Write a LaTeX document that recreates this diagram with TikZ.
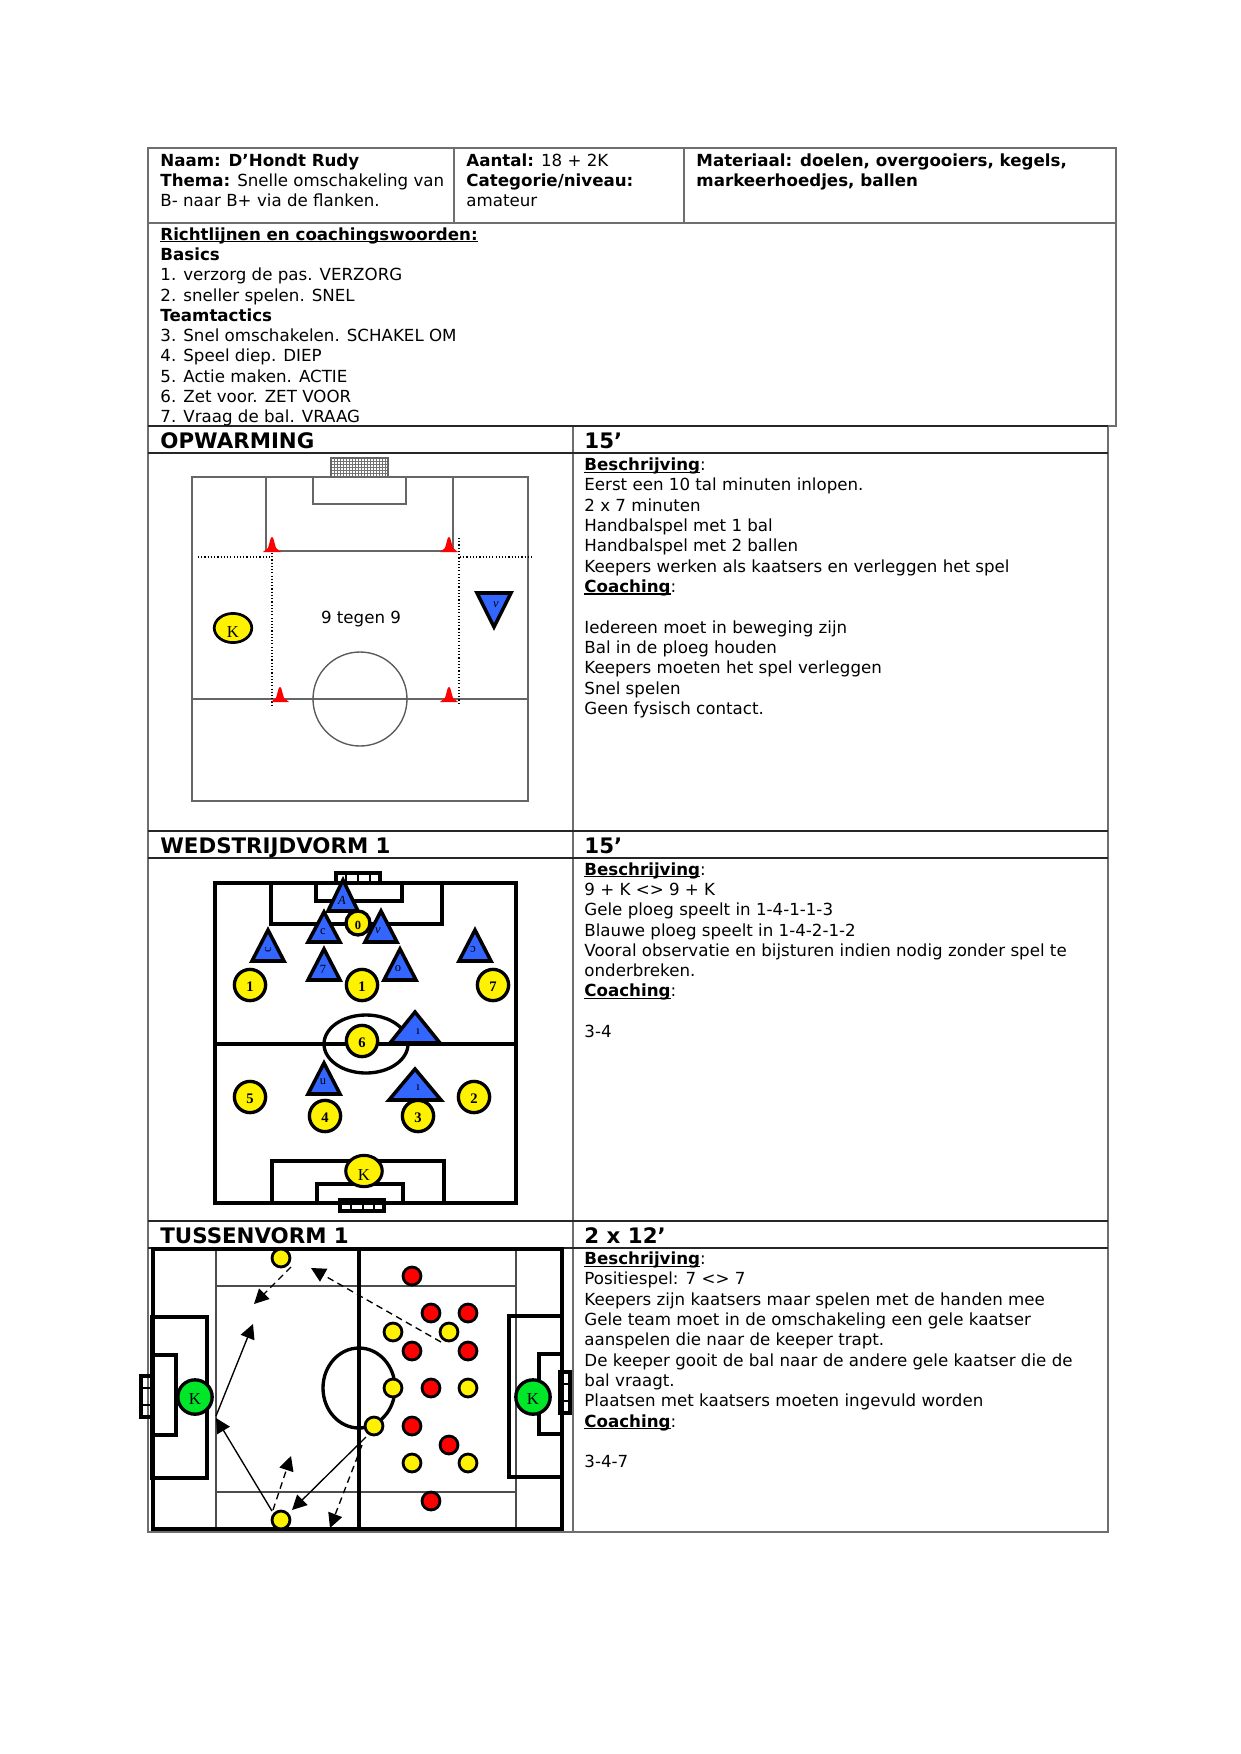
\documentclass[tikz,border=0pt]{standalone}
\usepackage{fontspec}
\setmainfont{DejaVu Sans}
\newfontfamily\serifplayer{Liberation Serif}
\usetikzlibrary{arrows.meta,shapes.geometric}
\definecolor{rule}{RGB}{110,110,110}
\definecolor{tblue}{RGB}{51,102,255}
\definecolor{pgreen}{RGB}{0,230,40}
\tikzset{
  x=0.48pt,y=-0.48pt,
  tline/.style={draw=rule,line width=0.6pt},
  hline/.style={draw=black!85,line width=0.5pt},
  txt/.style={anchor=north west,inner sep=0pt,align=left,font=\fontsize{8}{9.75}\selectfont},
  head/.style={anchor=base west,inner sep=0pt,font=\fontsize{10.25}{12}\selectfont\bfseries},
  pline/.style={draw=black!60,line width=0.65pt},
  dot/.style={draw=black,densely dotted,line width=0.55pt},
  bline/.style={draw=black,line width=1.6pt},
  thin3/.style={draw=black!70,line width=0.6pt},
  pl/.style={circle,draw=black,line width=1.6pt,fill=yellow,minimum size=15pt,inner sep=0pt,text height=6.1pt,text depth=0pt,font=\fontsize{7}{7}\selectfont\bfseries\serifplayer},
  plk/.style={ellipse,draw=black,line width=1.5pt,fill=yellow,inner sep=0pt,text height=9.3pt,text depth=0pt,font=\fontsize{8}{8}\selectfont\serifplayer},
  tri/.style={draw=black,line width=1.7pt,fill=tblue,line join=miter},
  trilab/.style={inner sep=0pt,font=\fontsize{6}{6}\selectfont\serifplayer},
  small/.style={circle,draw=black,line width=1.35pt,minimum size=8.6pt,inner sep=0pt},
  yp/.style={small,fill=yellow},
  rp/.style={small,fill=red},
  gk/.style={circle,draw=black,line width=1.6pt,fill=pgreen,minimum size=16.5pt,inner sep=0pt,text height=7.3pt,text depth=0pt,font=\fontsize{8}{8}\selectfont\serifplayer},
  sol/.style={draw=black,line width=0.65pt,-{Triangle[length=7pt,width=7pt]}},
  das/.style={draw=black,line width=0.65pt,dash pattern=on 3.2pt off 2.2pt,-{Triangle[length=7pt,width=7pt]}},
  cone/.pic={\fill[red] (-4,-2) -- (-1.2,-12) -- (0,-13) -- (1.2,-12) -- (4,-2) -- (9,2) -- (-9,2) -- cycle;},
}
\newsavebox{\ubox}
\newcommand{\bu}[1]{\sbox{\ubox}{\textbf{#1}}\rlap{\rule[-1.1pt]{\wd\ubox}{0.65pt}}\usebox{\ubox}}
\newcommand{\tripl}[8]{\draw[tri] (#1,#2) -- (#1+#3,#4) -- (#1-#3,#4) -- cycle;
  \node[trilab,rotate=#5] at (#6,#7) {#8};}
\begin{document}
\begin{tikzpicture}
\useasboundingbox (0,0) rectangle (1241,1754);
% table rules
\draw[tline] (148,148) rectangle (1116,426);
\draw[tline] (148,223) -- (1116,223);
\draw[tline] (454,148) -- (454,223);
\draw[tline] (684,148) -- (684,223);
\draw[tline] (148,426) rectangle (1108,1532);
\draw[tline] (573,426) -- (573,1532);
\draw[hline] (148,426) -- (1108,426);
\draw[hline] (148,453) -- (1108,453);
\draw[hline] (148,831) -- (1108,831);
\draw[hline] (148,858) -- (1108,858);
\draw[hline] (148,1221) -- (1108,1221);
\draw[hline] (148,1248) -- (1108,1248);
% header text
\node[txt] (t1) at (160,153) {\textbf{Naam: D’Hondt Rudy}\\\textbf{Thema:} Snelle omschakeling van\\B- naar B+ via de flanken.};
\node[txt] (t2) at (466,153) {\textbf{Aantal:} 18 + 2K\\\textbf{Categorie/niveau:}\\amateur};
\node[txt] (t3) at (696,153) {\textbf{Materiaal: doelen, overgooiers, kegels,}\\\textbf{markeerhoedjes, ballen}};
\node[txt] (t4) at (160,227) {\bu{Richtlijnen en coachingswoorden:}\\\textbf{Basics}\\1. verzorg de pas. VERZORG\\2. sneller spelen. SNEL\\\textbf{Teamtactics}\\3. Snel omschakelen. SCHAKEL OM\\4. Speel diep. DIEP\\5. Actie maken. ACTIE\\6. Zet voor. ZET VOOR\\7. Vraag de bal. VRAAG};
% section heads
\node[head] (h1) at (160,448) {OPWARMING};
\node[head] (h2) at (584,448) {15’};
\node[head] (h3) at (160,853) {WEDSTRIJDVORM 1};
\node[head] (h4) at (584,853) {15’};
\node[head] (h5) at (160,1243) {TUSSENVORM 1};
\node[head] (h6) at (584,1243) {2 x 12’};
\node[txt] (d1) at (584,457.5) {\bu{Beschrijving}:\\Eerst een 10 tal minuten inlopen.\\2 x 7 minuten\\Handbalspel met 1 bal\\Handbalspel met 2 ballen\\Keepers werken als kaatsers en verleggen het spel\\\bu{Coaching}:\\[9.75pt]Iedereen moet in beweging zijn\\Bal in de ploeg houden\\Keepers moeten het spel verleggen\\Snel spelen\\Geen fysisch contact.};
\node[txt] (d2) at (584,862) {\bu{Beschrijving}:\\9 + K <> 9 + K\\Gele ploeg speelt in 1-4-1-1-3\\Blauwe ploeg speelt in 1-4-2-1-2\\Vooral observatie en bijsturen indien nodig zonder spel te\\onderbreken.\\\bu{Coaching}:\\[9.75pt]3-4};
\node[txt] (d3) at (584,1251.5) {\bu{Beschrijving}:\\Positiespel: 7 <> 7\\Keepers zijn kaatsers maar spelen met de handen mee\\Gele team moet in de omschakeling een gele kaatser\\aanspelen die naar de keeper trapt.\\De keeper gooit de bal naar de andere gele kaatser die de\\bal vraagt.\\Plaatsen met kaatsers moeten ingevuld worden\\\bu{Coaching}:\\[9.75pt]3-4-7};
% --- pitch 1
\draw[pline] (192,477) rectangle (528,801);
\draw[pline] (266,477) -- (266,551) -- (453,551) -- (453,477);
\draw[pline] (313,477) -- (313,504) -- (406,504) -- (406,477);
\draw[pline] (192,699) -- (528,699);
\draw[pline,draw=black!65] (360,699) circle[radius=47];
\foreach \x in {331,334,...,388} \draw[black!55,line width=0.3pt] (\x,458) -- (\x,477);
\foreach \y in {458,461,...,477} \draw[black!55,line width=0.3pt] (331,\y) -- (388,\y);
\draw[pline] (331,458) rectangle (388,477);
\draw[dot] (198,557) -- (272,557);
\draw[dot] (272,540) -- (272,705);
\draw[dot] (460,557) -- (534,557);
\draw[dot] (459,538) -- (459,705);
\pic at (272,550) {cone};
\pic at (449,550) {cone};
\pic at (280,700) {cone};
\pic at (449,700) {cone};
\node[inner sep=0pt,font=\fontsize{8}{8}\selectfont] (nt) at (361,619) {9 tegen 9};
\node[plk,minimum width=18pt,minimum height=14pt,line width=1.3pt] (k1) at (233,628) {K};
\draw[tri] (477,593) -- (511,593) -- (494,627) -- cycle;
\node[trilab] (k2) at (496,605) {\itshape ν};
% --- pitch 2
\draw[bline] (215,883) rectangle (516,1203);
\draw[bline] (215,1044) -- (516,1044);
\draw[bline] (271,883) rectangle (442,924);
\draw[bline] (316,883) rectangle (402,901);
\draw[bline] (336,873) rectangle (380,883);
\foreach \x in {346,358,370} \draw[black,line width=0.6pt] (\x,873) -- (\x,883);
\draw[bline] (272,1161) rectangle (444,1203);
\draw[bline] (317,1184) rectangle (403,1203);
\draw[bline] (340,1200) rectangle (384,1211);
\foreach \x in {351,363,374} \draw[black,line width=0.6pt] (\x,1200) -- (\x,1211);
\draw[bline] (366,1044) ellipse[x radius=42,y radius=29];
\tripl{343}{880}{15}{911}{0}{342}{900}{\itshape A}
\tripl{324}{912}{16}{942}{0}{323}{932}{c}
\tripl{381}{911}{16}{942}{0}{378}{931}{\itshape ν}
\tripl{268}{930}{16}{961}{90}{268}{950}{c}
\tripl{475}{930}{16}{961}{180}{473}{949}{c}
\tripl{324}{949}{16}{980}{0}{323}{969}{7}
\tripl{400}{949}{16}{980}{0}{398}{969}{o}
\tripl{415}{1012}{25}{1043}{0}{418}{1032}{ı}
\tripl{324}{1063}{16}{1094}{0}{323}{1082}{u}
\tripl{415}{1069}{26}{1100}{0}{418}{1088}{ı}
\node[pl] (y1) at (250,985) {1};
\node[pl] (y2) at (362,985) {1};
\node[pl] (y3) at (493,985) {7};
\node[pl] (y4) at (362,1041) {6};
\node[pl] (y5) at (250,1097) {5};
\node[pl] (y6) at (474,1097) {2};
\node[pl] (y7) at (325,1116) {4};
\node[pl] (y8) at (418,1116) {3};
\node[pl,minimum size=11.5pt,font=\fontsize{6}{6}\selectfont\bfseries\serifplayer] (y9) at (358,923) {0};
\node[plk,minimum width=17.5pt,minimum height=15pt] (y10) at (364,1171) {K};
% --- pitch 3
\draw[thin3] (216,1249) -- (216,1529);
\draw[thin3] (516,1249) -- (516,1529);
\draw[thin3] (216,1286) -- (516,1286);
\draw[thin3] (216,1492) -- (516,1492);
\draw[bline] (153,1249) rectangle (562,1529);
\draw[bline] (359,1249) -- (359,1529);
\draw[bline] (359,1388) ellipse[x radius=36,y radius=40];
\draw[bline] (152,1317) rectangle (207,1478);
\draw[bline] (153,1355) -- (176,1355) -- (176,1435) -- (153,1435);
\draw[bline] (152,1376) -- (141,1376) -- (141,1417) -- (152,1417);
\draw[black,line width=0.6pt] (141,1388) -- (152,1388) (141,1405) -- (152,1405);
\draw[bline] (562,1316) -- (509,1316) -- (509,1477) -- (562,1477);
\draw[bline] (562,1354) -- (539,1354) -- (539,1434) -- (562,1434);
\draw[bline] (560,1372) -- (570,1372) -- (570,1413) -- (560,1413) -- cycle;
\draw[black,line width=0.6pt] (560,1384) -- (570,1384) (560,1401) -- (570,1401);
\node[gk] (gk1) at (195,1397) {K};
\node[gk] (gk2) at (533,1397) {K};
\node[yp] (a1) at (281,1258) {};
\node[yp] (a2) at (393,1332) {};
\node[yp] (a3) at (449,1332) {};
\node[yp] (a4) at (393,1388) {};
\node[yp] (a5) at (468,1388) {};
\node[yp] (a6) at (374,1426) {};
\node[yp] (a7) at (412,1463) {};
\node[yp] (a8) at (468,1463) {};
\node[yp] (a9) at (281,1520) {};
\node[rp] (b1) at (412,1276) {};
\node[rp] (b2) at (431,1313) {};
\node[rp] (b3) at (468,1313) {};
\node[rp] (b4) at (412,1351) {};
\node[rp] (b5) at (468,1351) {};
\node[rp] (b6) at (431,1388) {};
\node[rp] (b7) at (412,1426) {};
\node[rp] (b8) at (449,1445) {};
\node[rp] (b9) at (431,1501) {};
\coordinate (c1s) at (291,1267);
\coordinate (c1e) at (254,1304);
\coordinate (c2s) at (441,1342);
\coordinate (c2e) at (311,1268);
\coordinate (c3s) at (216,1416);
\coordinate (c3e) at (253,1324);
\coordinate (c4s) at (272,1511);
\coordinate (c4e) at (216,1418);
\coordinate (c5s) at (273,1510);
\coordinate (c5e) at (291,1456);
\coordinate (c6s) at (366,1437);
\coordinate (c6e) at (292,1510);
\coordinate (c7s) at (362,1445);
\coordinate (c7e) at (330,1528);
\draw[das] (c1s) -- (c1e);
\draw[das] (c2s) -- (c2e);
\draw[sol] (c3s) -- (c3e);
\draw[sol] (c4s) -- (c4e);
\draw[das] (c5s) -- (c5e);
\draw[sol] (c6s) -- (c6e);
\draw[das] (c7s) -- (c7e);
\end{tikzpicture}
\end{document}
